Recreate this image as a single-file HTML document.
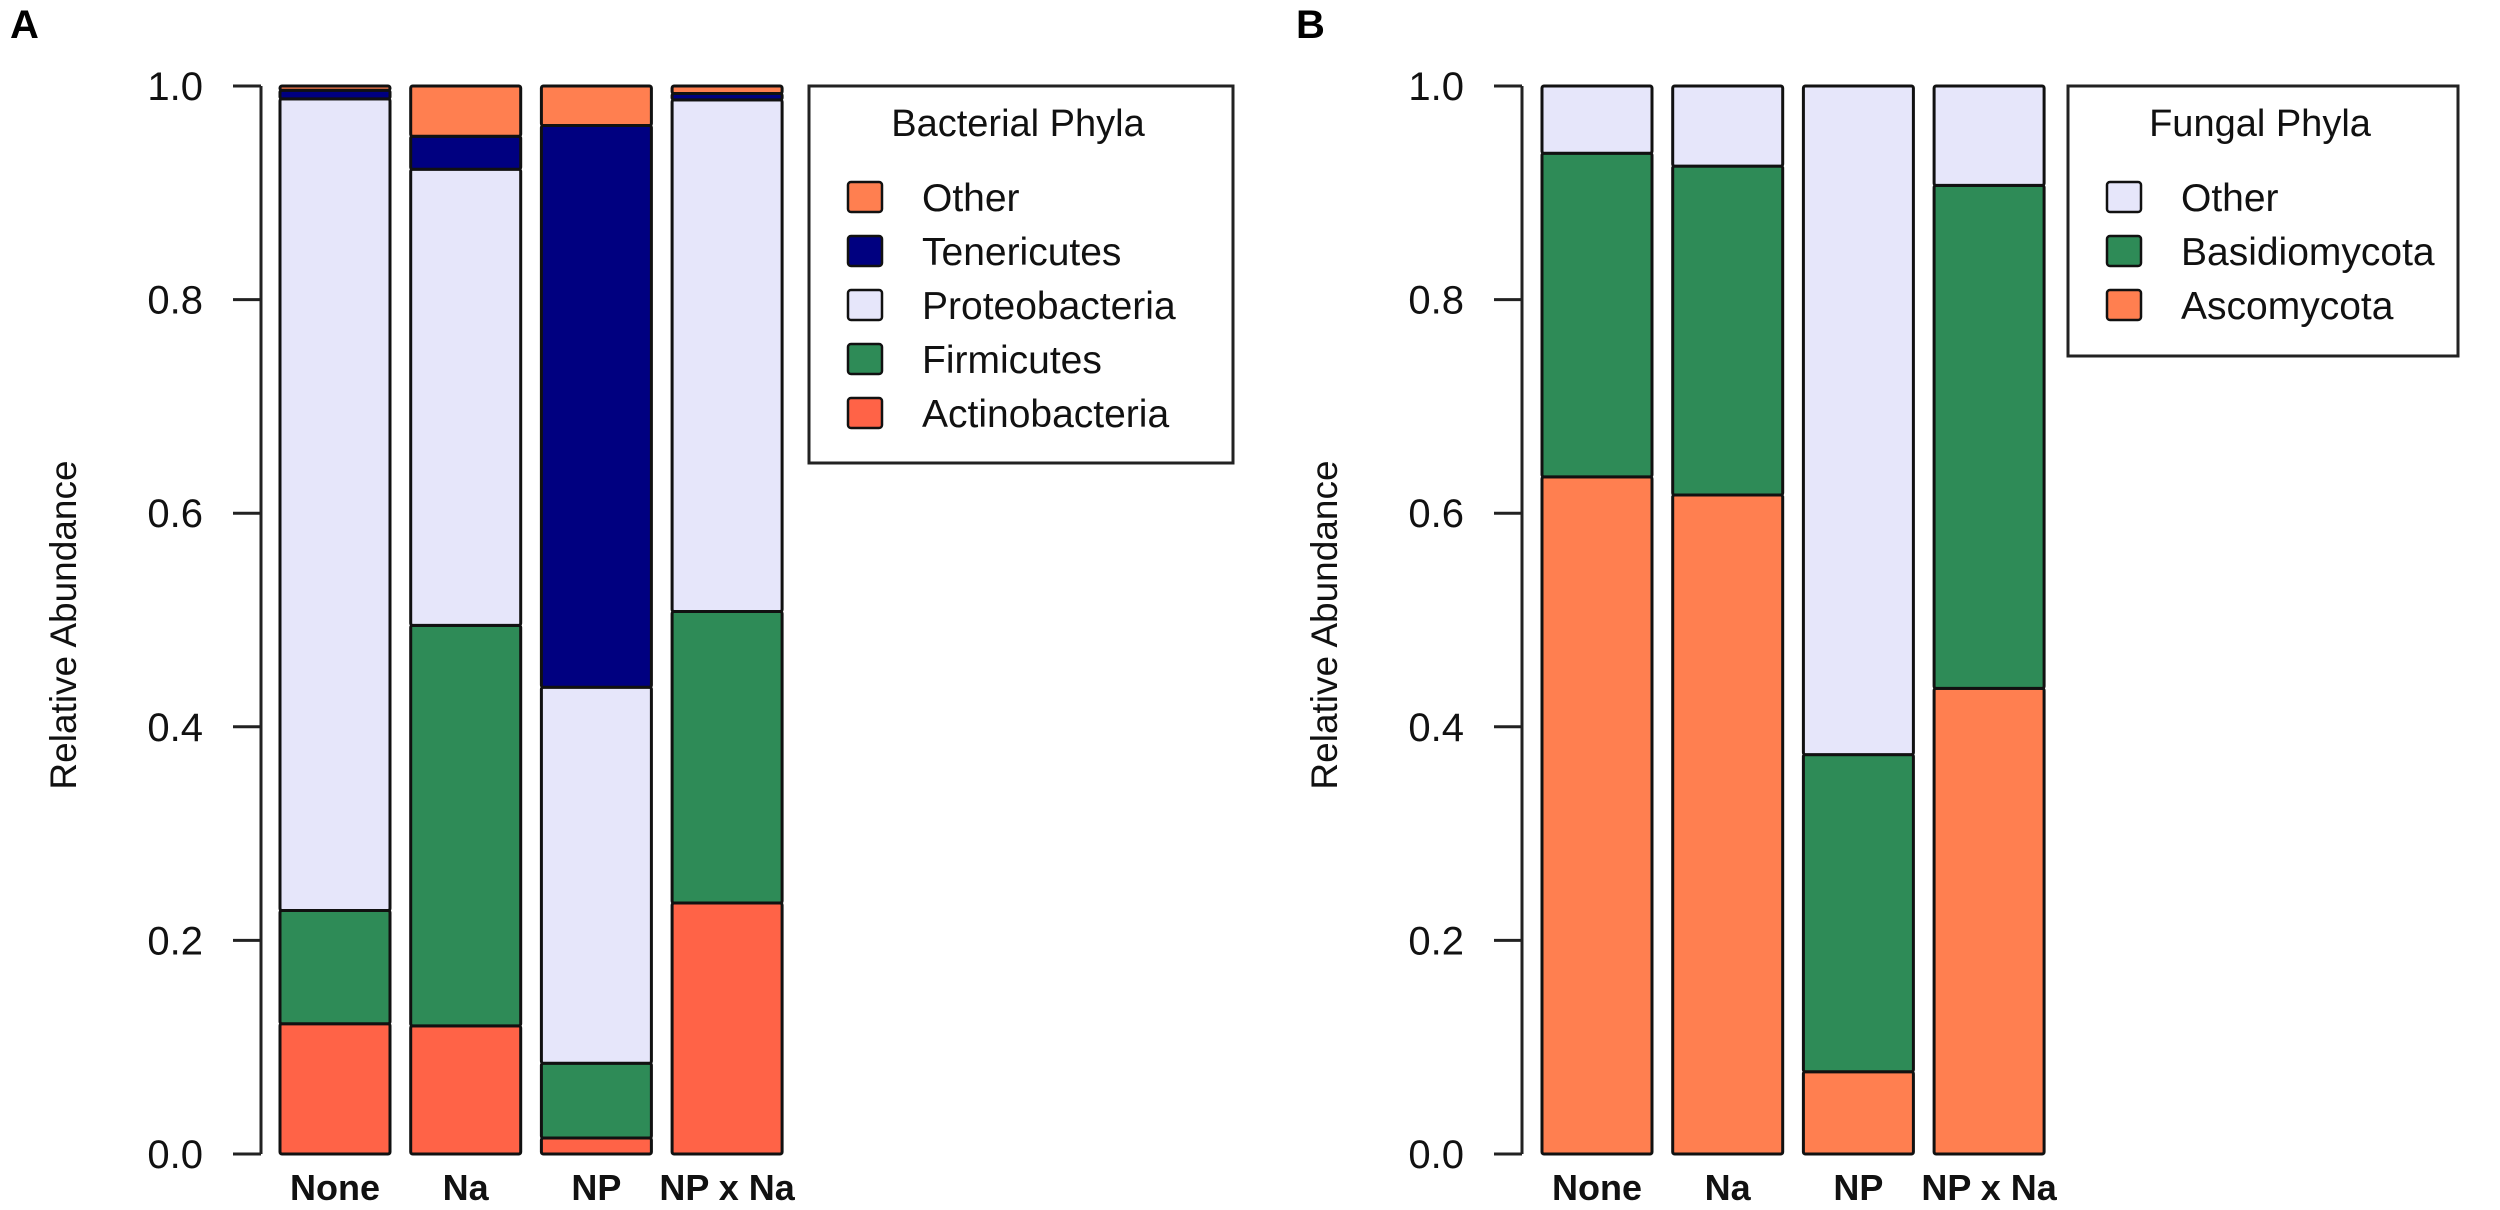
<!DOCTYPE html>
<html><head><meta charset="utf-8"><style>
html,body{margin:0;padding:0;background:#fff;}
svg{display:block;font-family:"Liberation Sans",Arial,sans-serif;}
</style></head><body>
<svg id="fig" width="2500" height="1210" viewBox="0 0 2500 1210">
<text x="10" y="38" font-size="40" font-weight="bold">A</text>
<text x="1296" y="38" font-size="40" font-weight="bold">B</text>
<g id="pa"></g>
<g id="pb"></g>
</svg>
<script>
const categories = ["None", "Na", "NP", "NP x Na"];
const yTicks = [0.0, 0.2, 0.4, 0.6, 0.8, 1.0];
const yTickLabels = ["0.0", "0.2", "0.4", "0.6", "0.8", "1.0"];
// Bacterial (bottom to top)
const bacActino = [0.122, 0.120, 0.015, 0.235];
const bacFirm   = [0.106, 0.375, 0.070, 0.273];
const bacProteo = [0.760, 0.427, 0.352, 0.479];
const bacTener  = [0.008, 0.031, 0.526, 0.006];
const bacOther  = [0.004, 0.047, 0.037, 0.007];
// Fungal (bottom to top)
const funAsco  = [0.634, 0.617, 0.077, 0.436];
const funBasid = [0.303, 0.308, 0.297, 0.471];
const funOther = [0.063, 0.075, 0.626, 0.093];

const NS = "http://www.w3.org/2000/svg";
function mk(parent, tag, attrs, name, text) {
  const e = document.createElementNS(NS, tag);
  for (const k in attrs) e.setAttribute(k, attrs[k]);
  
  
  if (text !== undefined) e.textContent = text;
  parent.appendChild(e);
  return e;
}
const Y0 = 1154, Y1 = 86;
function yScale(v) { return Y0 - v * (Y0 - Y1); }

function drawPanel(g, axisX, barLeft0, series, legendX, legendW, legendH, title) {
  const pitch = 130.7, bw = 110;
  function xScale(i) { return barLeft0 + i * pitch; }
  mk(g, 'line', {x1: axisX, y1: Y1, x2: axisX, y2: Y0, stroke: '#222', 'stroke-width': 3}, 'y-axis-line');
  yTicks.forEach((t, i) => {
    const y = yScale(t);
    mk(g, 'line', {x1: axisX - 28, y1: y, x2: axisX, y2: y, stroke: '#222', 'stroke-width': 3}, 'y-tick');
    mk(g, 'text', {x: axisX - 58, y: y + 14, 'font-size': 40, 'text-anchor': 'end', fill: '#111'}, 'y-tick-label', yTickLabels[i]);
  });
  const tx = axisX - 185, ty = 625;
  mk(g, 'text', {x: tx, y: ty, 'font-size': 37, 'text-anchor': 'middle', fill: '#111', transform: 'rotate(-90 ' + tx + ' ' + ty + ')'}, 'y-axis-title', 'Relative Abundance');
  categories.forEach((c, i) => {
    let cum = 0;
    const x = xScale(i);
    series.forEach(s => {
      const v = s.vals[i];
      const yt = yScale(cum + v), yb = yScale(cum);
      mk(g, 'rect', {x: x, y: yt, width: bw, height: Math.max(0, yb - yt), fill: s.color, stroke: '#111', 'stroke-width': 3, rx: 2}, 'bar-' + s.key + '-' + i);
      cum += v;
    });
    mk(g, 'text', {x: x + bw / 2, y: 1200, 'font-size': 36, 'font-weight': 'bold', 'text-anchor': 'middle', fill: '#111'}, 'x-tick-label', c);
  });
  const lg = mk(g, 'g', {}, 'legend');
  mk(lg, 'rect', {x: legendX, y: 86, width: legendW, height: legendH, fill: '#fff', stroke: '#222', 'stroke-width': 3}, 'legend-box');
  mk(lg, 'text', {x: legendX + legendW / 2 - 3, y: 136, 'font-size': 38, 'text-anchor': 'middle', fill: '#111'}, 'legend-title', title);
  const items = series.slice().reverse();
  items.forEach((s, j) => {
    const cy = 197 + j * 54;
    mk(lg, 'rect', {x: legendX + 39, y: cy - 15, width: 34, height: 30, fill: s.color, stroke: '#111', 'stroke-width': 2.5, rx: 3}, 'legend-swatch-' + s.key);
    mk(lg, 'text', {x: legendX + 113, y: cy + 14, 'font-size': 39, fill: '#111'}, 'legend-entry-' + s.key, s.label);
  });
}

drawPanel(document.getElementById('pa'), 261, 280, [
  {key: 'actinobacteria', label: 'Actinobacteria', color: '#FF6347', vals: bacActino},
  {key: 'firmicutes', label: 'Firmicutes', color: '#2E8B57', vals: bacFirm},
  {key: 'proteobacteria', label: 'Proteobacteria', color: '#E6E6FA', vals: bacProteo},
  {key: 'tenericutes', label: 'Tenericutes', color: '#000080', vals: bacTener},
  {key: 'other', label: 'Other', color: '#FF7F50', vals: bacOther}
], 809, 424, 377, 'Bacterial Phyla');

drawPanel(document.getElementById('pb'), 1522, 1542, [
  {key: 'ascomycota', label: 'Ascomycota', color: '#FF7F50', vals: funAsco},
  {key: 'basidiomycota', label: 'Basidiomycota', color: '#2E8B57', vals: funBasid},
  {key: 'other', label: 'Other', color: '#E6E6FA', vals: funOther}
], 2068, 390, 270, 'Fungal Phyla');
</script>
</body></html>
